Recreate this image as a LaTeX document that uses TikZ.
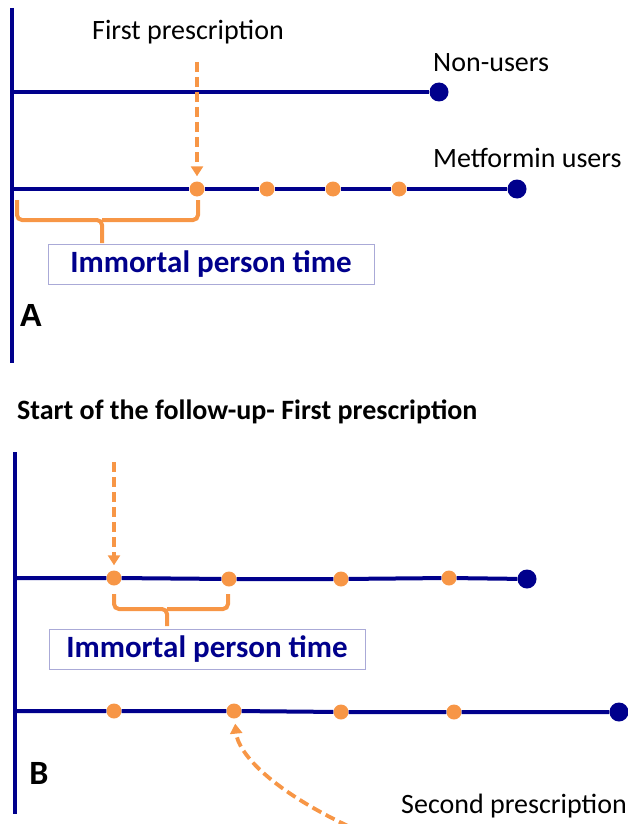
\documentclass[tikz,border=0pt]{standalone}
\usepackage{fontspec}
\setmainfont{Carlito}
\newfontfamily\arialfont{Liberation Sans}
\usetikzlibrary{arrows.meta}

\definecolor{navyline}{RGB}{0,0,140}
\definecolor{dotorange}{RGB}{247,150,70}
\definecolor{boxedge}{RGB}{170,170,215}

\begin{document}
\begin{tikzpicture}[x=1pt, y=-1pt,
		axis_style/.style={draw=navyline, line width=4pt},
		line_style/.style={draw=navyline, line width=4pt},
		dot_style/.style={circle, fill=dotorange, inner sep=0pt, minimum size=15pt},
		end_style/.style={circle, fill=navyline, inner sep=0pt, minimum size=19pt},
		arrow_style/.style={draw=dotorange, line width=3.8pt, dash pattern=on 10pt off 5pt,
			-{Triangle[width=12pt,length=10pt]}, shorten >=5pt},
		brace_style/.style={draw=dotorange, line width=4pt, rounded corners=5pt},
		box_style/.style={draw=boxedge, line width=0.9pt, fill=white, minimum width=326pt,
			minimum height=40pt, text=navyline, font=\fontsize{31}{36}\selectfont\bfseries},
		label_style/.style={inner sep=0pt, anchor=west, font=\fontsize{28}{32}\selectfont}]
		
		\useasboundingbox (0,0) rectangle (628,824);
		
		% panel A
		\draw[axis_style] (12,8) -- (12,363);
		\coordinate (n0) at (12,92);
		\coordinate (m0) at (12,189);
		\node[end_style] (n1) at (439,92) {};
		\node[dot_style] (m1) at (197,189) {};
		\node[dot_style] (m2) at (267,189) {};
		\node[dot_style] (m3) at (333,189) {};
		\node[dot_style] (m4) at (399,189) {};
		\node[end_style] (m5) at (517,189) {};
		
		\draw[line_style] (n0) -- (n1);
		\draw[line_style] (m0) -- (m1) -- (m2) -- (m3) -- (m4) -- (m5);
		
		\node[label_style] (first) at (92,32) {First prescription};
		\node[label_style] (nonusers) at (433,63) {Non-users};
		\node[label_style] (users) at (433,158) {Metformin users};
		\coordinate (fa) at (197,62);
		\draw[arrow_style] (fa) -- (m1);
		
		\draw[brace_style] (17,200) -- (17,220) -- (102,220) -- (102,243);
		\draw[brace_style] (102,220) -- (198,220) -- (198,200);
		\node[box_style] (imma) at (211,264) {Immortal person time};
		\node[inner sep=0pt, font=\arialfont\fontsize{32}{36}\selectfont\bfseries] (la) at (31,315) {A};
		
		% panel B
		\node[label_style, font=\fontsize{28}{32}\selectfont\bfseries] (title) at (17,412)
			{Start of the follow-up- First prescription};
		\draw[axis_style] (15,452) -- (15,814);
		\coordinate (p0) at (15,578);
		\coordinate (q0) at (15,711);
		\node[dot_style] (p1) at (114,578) {};
		\node[dot_style] (p2) at (229,579) {};
		\node[dot_style] (p3) at (341,579) {};
		\node[dot_style] (p4) at (449,578) {};
		\node[end_style] (p5) at (527,579) {};
		\node[dot_style] (q1) at (114,711) {};
		\node[dot_style] (q2) at (234,711) {};
		\node[dot_style] (q3) at (341,712) {};
		\node[dot_style] (q4) at (454,712) {};
		\node[end_style] (q5) at (619,712) {};
		
		\draw[line_style] (p0) -- (p1) -- (p2) -- (p3) -- (p4) -- (p5);
		\draw[line_style] (q0) -- (q1) -- (q2) -- (q3) -- (q4) -- (q5);
		
		\coordinate (fb) at (114,462);
		\draw[arrow_style] (fb) -- (p1);
		\draw[brace_style] (114,594) -- (114,609) -- (167,609) -- (167,626);
		\draw[brace_style] (167,609) -- (228,609) -- (228,594);
		\node[box_style, minimum width=316pt] (immb) at (207,649) {Immortal person time};
		
		\coordinate (sb) at (348,826);
		\draw[arrow_style] (sb) .. controls (268,788) and (238,752) .. (q2);
		\node[label_style] (second) at (401,806) {Second prescription};
		\node[inner sep=0pt, font=\fontsize{34}{38}\selectfont\bfseries] (lb) at (39,773) {B};
		
\end{tikzpicture}
\end{document}
